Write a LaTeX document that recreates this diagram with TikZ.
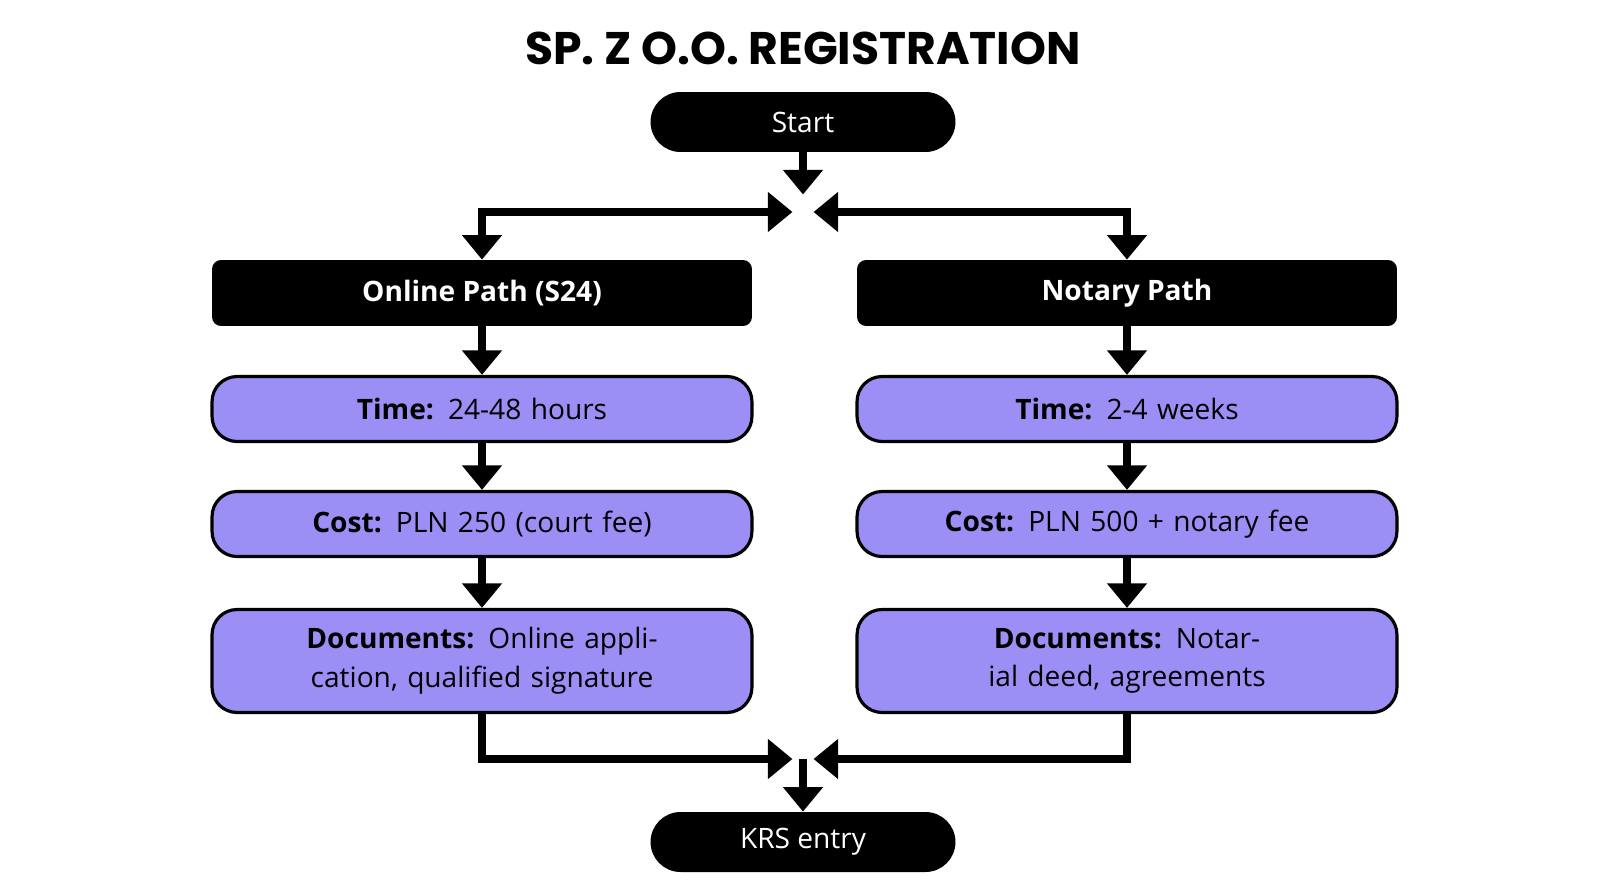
\documentclass[tikz,border=0pt]{standalone}
\usepackage{fontspec}
\setmainfont{Open Sans}
\newfontfamily\titlefont{Poppins}
\usetikzlibrary{arrows.meta}
\definecolor{boxpurple}{HTML}{9B8FF5}
\begin{document}
\begin{tikzpicture}[x=0.02cm,y=-0.02cm,
  term/.style={fill=black,text=white,rounded corners=0.6cm,minimum width=6.1cm,minimum height=1.2cm,font=\fontsize{16}{19}\selectfont},
  head/.style={fill=black,text=white,rounded corners=0.18cm,minimum width=10.8cm,minimum height=1.32cm,font=\fontsize{16}{19}\selectfont\bfseries},
  info/.style={draw=black,line width=1.8pt,fill=boxpurple,rounded corners=0.5cm,minimum width=10.8cm,minimum height=1.3cm,text width=10cm,align=center,font=\fontsize{16}{22}\selectfont},
  flow/.style={line width=5pt,-{Triangle[width=22pt,length=14pt]}},
  both/.style={line width=5pt,{Triangle[width=22pt,length=14pt]}-{Triangle[width=22pt,length=14pt]}}]
\useasboundingbox (0,0) rectangle (1600,892);
\node[font=\titlefont\fontsize{26}{30}\selectfont\bfseries] (title) at (803,48) {SP. Z O.O. REGISTRATION};
\node[term] (start) at (803,122) {Start};
\coordinate (split) at (803,212);
\node[head] (online) at (482,293) {Online Path (S24)};
\node[head] (notary) at (1127,293) {Notary Path};
\node[info] (otime) at (482,409) {\textbf{Time:} 24-48 hours};
\node[info] (ntime) at (1127,409) {\textbf{Time:} 2-4 weeks};
\node[info] (ocost) at (482,524) {\textbf{Cost:} PLN 250 (court fee)};
\node[info] (ncost) at (1127,524) {\textbf{Cost:} PLN 500 + notary fee};
\node[info,minimum height=2.06cm] (odocs) at (482,661) {\textbf{Documents:} Online application, qualified signature};
\node[info,minimum height=2.06cm] (ndocs) at (1127,661) {\textbf{Documents:} Notarial deed, agreements};
\coordinate (merge) at (803,759);
\node[term] (krs) at (803,842) {KRS entry};
% split
\draw[flow] (start) -- ([yshift=0.35cm]split);
\draw[both,shorten <=2pt] ([xshift=-4pt]split) -| (online);
\draw[both,shorten <=2pt] ([xshift=4pt]split) -| (notary);
% steps
\draw[flow] (online) -- (otime);
\draw[flow] (otime) -- (ocost);
\draw[flow] (ocost) -- (odocs);
\draw[flow] (notary) -- (ntime);
\draw[flow] (ntime) -- (ncost);
\draw[flow] (ncost) -- (ndocs);
% merge
\draw[flow,shorten >=2pt] (odocs) |- ([xshift=-4pt]merge);
\draw[flow,shorten >=2pt] (ndocs) |- ([xshift=4pt]merge);
\draw[flow] (merge) -- (krs);
\end{tikzpicture}
\end{document}
